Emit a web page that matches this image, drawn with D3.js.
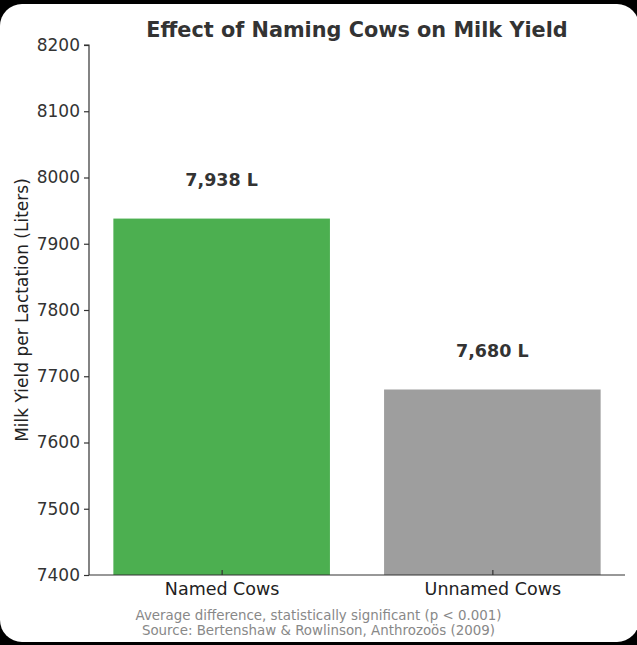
<!DOCTYPE html>
<html>
<head>
<meta charset="utf-8">
<script src="https://cdn.jsdelivr.net/npm/d3@7"></script>
<style>
  html, body { margin: 0; padding: 0; background: #000; }
  svg { display: block; }
  text { font-family: "DejaVu Sans", sans-serif; }
</style>
</head>
<body>
<svg id="chart" width="637" height="645"></svg>
<script>
const categories = ['Named Cows', 'Unnamed Cows'];
const yields = [7938, 7680];
const barLabels = ['7,938 L', '7,680 L'];
const barColors = ['#4caf50', '#9e9e9e'];
const yTicks = [7400, 7500, 7600, 7700, 7800, 7900, 8000, 8100, 8200];
const footnotes = [
  'Average difference, statistically significant (p < 0.001)',
  'Source: Bertenshaw & Rowlinson, Anthrozoös (2009)'
];

const svg = d3.select('#chart');
const W = 637, H = 645;
const margin = {left: 89, right: 12, top: 45, bottom: 70};

// white card with rounded corners
svg.append('rect')
  .attr('x', 0).attr('y', 4)
  .attr('width', 639).attr('height', 638)
  .attr('rx', 22).attr('fill', '#fff');

const x = d3.scaleLinear().domain([-0.49, 1.49]).range([margin.left, W - margin.right]);
const y = d3.scaleLinear().domain([7400, 8200]).range([H - margin.bottom, margin.top]);
const barWidth = 0.8;

const g = svg.append('g');

g.selectAll('rect.bar').data(yields).enter().append('rect')
  .attr('class', 'bar')
  .attr('x', (d, i) => x(i - barWidth / 2))
  .attr('width', (d, i) => x(i + barWidth / 2) - x(i - barWidth / 2))
  .attr('y', d => y(d))
  .attr('height', d => y(7400) - y(d))
  .attr('fill', (d, i) => barColors[i]);

g.selectAll('text.val').data(yields).enter().append('text')
  .attr('class', 'val')
  .attr('x', (d, i) => x(i))
  .attr('y', d => y(d + 50) + 0.5)
  .attr('text-anchor', 'middle')
  .attr('font-size', '17.5px').attr('font-weight', 'bold').attr('fill', '#333')
  .text((d, i) => barLabels[i]);

// y axis
const yAxis = d3.axisLeft(y).tickValues(yTicks).tickSize(5).tickPadding(4).tickFormat(d3.format('d'));
const ya = svg.append('g').attr('transform', `translate(${margin.left},0)`).call(yAxis);
ya.select('.domain').attr('stroke', '#333').attr('stroke-width', 1.2).attr('d', `M-5,${y(8200)}H0V${y(7400)}`);
ya.selectAll('.tick line').attr('stroke', '#333').attr('stroke-width', 1.2);
ya.selectAll('.tick text').attr('font-size', '17px').attr('fill', '#333').attr('font-family', 'DejaVu Sans');

// x axis
const xAxis = d3.axisBottom(x).tickValues([0, 1]).tickSize(-5).tickPadding(8).tickFormat(i => categories[i]);
const xa = svg.append('g').attr('transform', `translate(0,${y(7400)})`).call(xAxis);
xa.select('.domain').attr('stroke', '#333').attr('stroke-width', 1.2).attr('d', `M${x.range()[0]},0H${x.range()[1]}`);
xa.selectAll('.tick line').attr('stroke', '#333').attr('stroke-width', 1.2);
xa.selectAll('.tick text').attr('font-size', '17.5px').attr('fill', '#222').attr('font-family', 'DejaVu Sans');

// title
svg.append('text')
  .attr('x', (x.range()[0] + x.range()[1]) / 2).attr('y', 37)
  .attr('text-anchor', 'middle')
  .attr('font-size', '20.8px').attr('font-weight', 'bold').attr('fill', '#333')
  .text('Effect of Naming Cows on Milk Yield');

// y label
svg.append('text')
  .attr('transform', `translate(28,${(y(8200) + y(7400)) / 2}) rotate(-90)`)
  .attr('text-anchor', 'middle')
  .attr('font-size', '17px').attr('fill', '#222')
  .text('Milk Yield per Lactation (Liters)');

// footnotes
svg.selectAll('text.note').data(footnotes).enter().append('text')
  .attr('class', 'note')
  .attr('x', W / 2).attr('y', (d, i) => 620 + i * 14.5)
  .attr('text-anchor', 'middle')
  .attr('font-size', '13.4px').attr('fill', '#888')
  .text(d => d);
</script>
</body>
</html>
